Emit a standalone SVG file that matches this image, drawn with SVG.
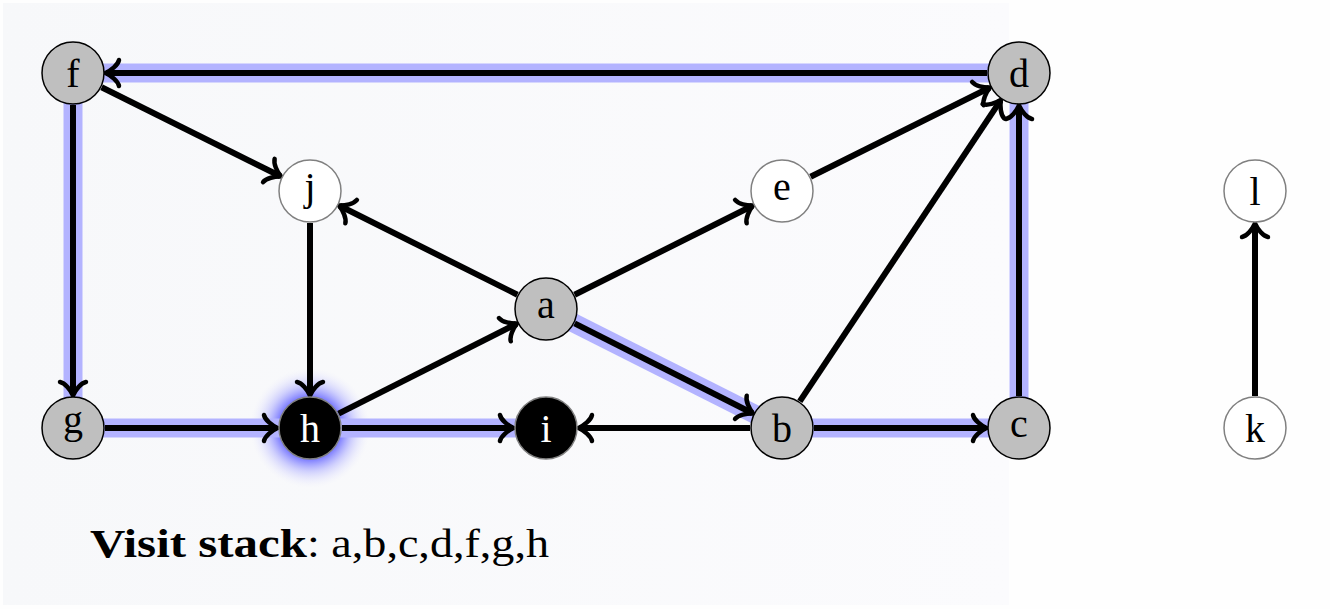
<svg xmlns="http://www.w3.org/2000/svg" width="1330" height="609" viewBox="0 0 1330 609">
<style>
  .lbl { font-family: "Liberation Serif", "DejaVu Serif", serif; font-size: 40px; text-anchor: middle; fill: #000; }
  .wlbl { fill: #fff; }
  .visited { fill: #bfbfbf; stroke: #000; stroke-width: 1.5; }
  .fresh { fill: #fff; stroke: #808080; stroke-width: 1.5; }
  .done { fill: #000; stroke: #808080; stroke-width: 1.5; }
  .hl { stroke: #b3b3ff; stroke-width: 19; fill: none; }
  .edge { stroke: #000; stroke-width: 6; fill: none; marker-end: url(#to); }
  .caption { font-family: "Liberation Serif", "DejaVu Serif", serif; font-size: 41px; fill: #000; }
</style>
<defs>
  <linearGradient id="bg" x1="0" y1="0" x2="1" y2="0">
    <stop offset="0" stop-color="#f7f8fa"/>
    <stop offset="1" stop-color="#fbfbfd"/>
  </linearGradient>
  <radialGradient id="glow" cx="0.5" cy="0.5" r="0.5">
    <stop offset="0.5" stop-color="#7070ff" stop-opacity="1"/>
    <stop offset="0.72" stop-color="#a4a4ff" stop-opacity="0.5"/>
    <stop offset="1" stop-color="#e8e8ff" stop-opacity="0"/>
  </radialGradient>
  <marker id="to" markerUnits="userSpaceOnUse" markerWidth="40" markerHeight="40" viewBox="-20 -20 40 40" refX="0" refY="0" orient="auto" overflow="visible">
    <path d="M -13 -13 C -12 -8 -5 -2.5 0.5 0 C -5 2.5 -12 8 -13 13" fill="none" stroke="#000" stroke-width="4.5" stroke-linecap="round" stroke-linejoin="round"/>
  </marker>
</defs>
<rect x="0" y="0" width="1330" height="609" fill="#fefefe"/>
<rect x="3" y="3" width="1006" height="602" fill="url(#bg)"/>

<circle id="h-glow" cx="310" cy="428" r="60" fill="url(#glow)"/>

<g id="connectors">
  <g id="highlights">
    <line class="hl" x1="1019" y1="73" x2="73" y2="73"/>
    <line class="hl" x1="73" y1="73" x2="73" y2="428"/>
    <line class="hl" x1="73" y1="428" x2="310" y2="428"/>
    <line class="hl" x1="310" y1="428" x2="546" y2="428"/>
    <line class="hl" x1="546" y1="309" x2="782" y2="428"/>
    <line class="hl" x1="782" y1="428" x2="1019" y2="428"/>
    <line class="hl" x1="1019" y1="428" x2="1019" y2="73"/>
  </g>
  <line class="edge" x1="987" y1="73" x2="106" y2="73"/>
  <line class="edge" x1="73" y1="105" x2="73" y2="395"/>
  <line class="edge" x1="101.6" y1="87.3" x2="280.5" y2="176.3"/>
  <line class="edge" x1="105" y1="428" x2="277" y2="428"/>
  <line class="edge" x1="310" y1="223" x2="310" y2="395"/>
  <line class="edge" x1="342" y1="428" x2="513" y2="428"/>
  <line class="edge" x1="338.6" y1="413.6" x2="516.5" y2="323.8"/>
  <line class="edge" x1="517.4" y1="294.7" x2="339.5" y2="205.8"/>
  <line class="edge" x1="574.6" y1="294.7" x2="752.5" y2="205.8"/>
  <line class="edge" x1="574.6" y1="323.4" x2="752.5" y2="413.2"/>
  <line class="edge" x1="750" y1="428" x2="579" y2="428"/>
  <line class="edge" x1="814" y1="428" x2="986" y2="428"/>
  <line class="edge" x1="1019" y1="396" x2="1019" y2="106"/>
  <line class="edge" x1="810.6" y1="176.7" x2="989.5" y2="87.8"/>
  <line class="edge" x1="799.8" y1="401.4" x2="1000.6" y2="100.4"/>
  <line class="edge" x1="1255" y1="396" x2="1255" y2="224"/>
</g>

<g id="node-f"><circle class="visited" cx="73" cy="73" r="31"/><text class="lbl" x="73" y="86.5">f</text></g>
<g id="node-d"><circle class="visited" cx="1019" cy="73" r="31"/><text class="lbl" x="1019" y="86.5">d</text></g>
<g id="node-j"><circle class="fresh" cx="310" cy="191" r="31"/><text class="lbl" x="310" y="200">j</text></g>
<g id="node-e"><circle class="fresh" cx="782" cy="191" r="31"/><text class="lbl" x="782" y="200">e</text></g>
<g id="node-l"><circle class="fresh" cx="1255" cy="191" r="31"/><text class="lbl" x="1255" y="204.5">l</text></g>
<g id="node-a"><circle class="visited" cx="546" cy="309" r="31"/><text class="lbl" x="546" y="318">a</text></g>
<g id="node-g"><circle class="visited" cx="73" cy="428" r="31"/><text class="lbl" x="73" y="433">g</text></g>
<g id="node-h"><circle class="done" cx="310" cy="428" r="31"/><text class="lbl wlbl" x="310" y="441.5">h</text></g>
<g id="node-i"><circle class="done" cx="546" cy="428" r="31"/><text class="lbl wlbl" x="546" y="441.5">i</text></g>
<g id="node-b"><circle class="visited" cx="782" cy="428" r="31"/><text class="lbl" x="782" y="441.5">b</text></g>
<g id="node-c"><circle class="visited" cx="1019" cy="428" r="31"/><text class="lbl" x="1019" y="437">c</text></g>
<g id="node-k"><circle class="fresh" cx="1255" cy="428" r="31"/><text class="lbl" x="1255" y="441.5">k</text></g>

<text id="caption" class="caption" x="90" y="557"><tspan font-weight="bold" textLength="217" lengthAdjust="spacingAndGlyphs">Visit stack</tspan><tspan textLength="242" lengthAdjust="spacingAndGlyphs">: a,b,c,d,f,g,h</tspan></text>
</svg>
